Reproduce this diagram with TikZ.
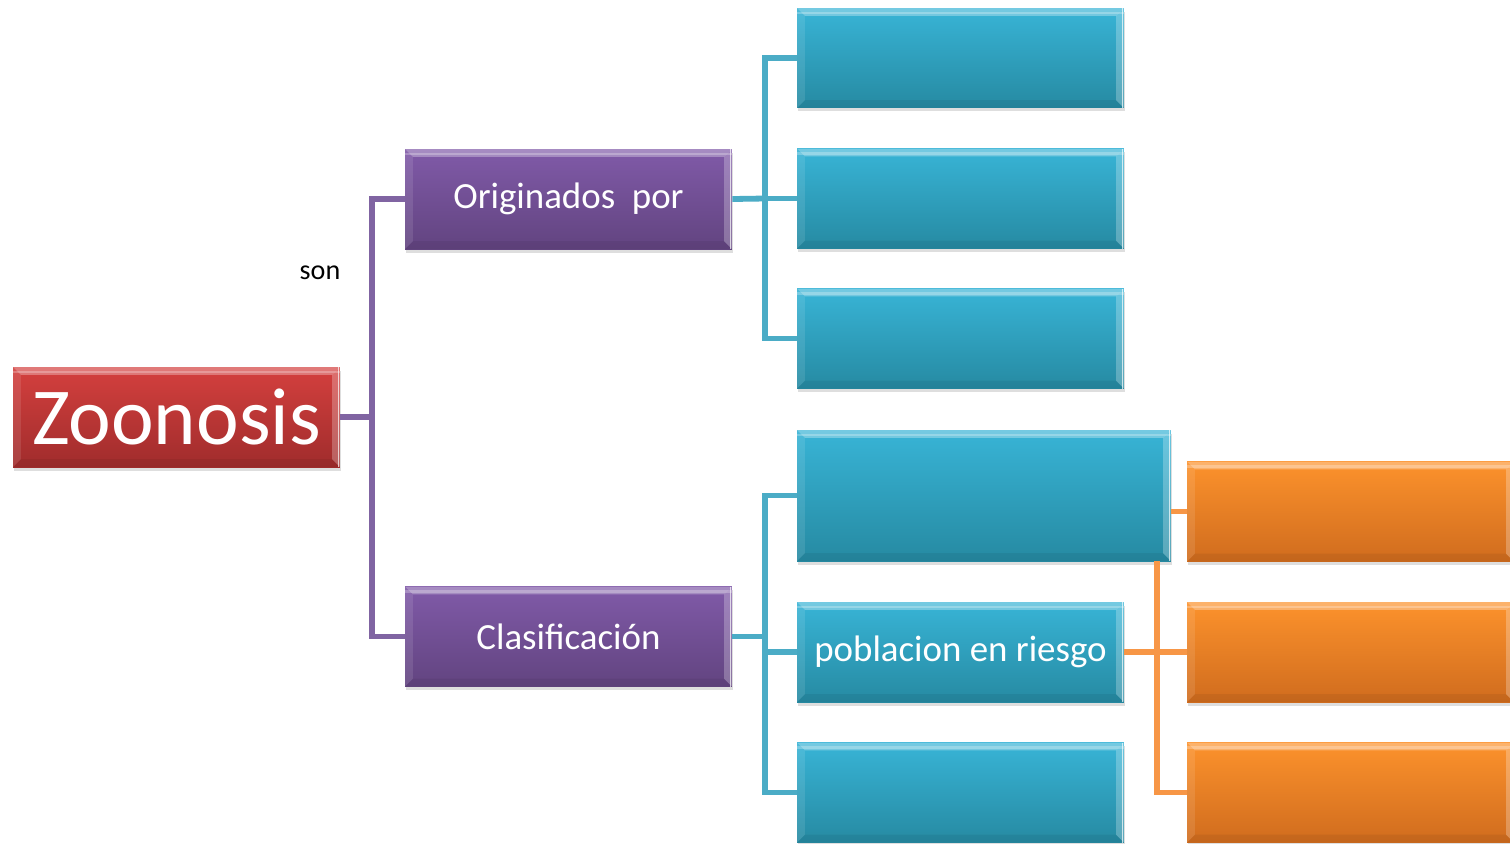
\documentclass[tikz,border=0pt]{standalone}
\usepackage{fontspec}
\setmainfont{Carlito}
\usetikzlibrary{shadows,calc}
\definecolor{redT}{RGB}{212,64,62}
\definecolor{redB}{RGB}{160,44,44}
\definecolor{purT}{RGB}{128,90,168}
\definecolor{purB}{RGB}{98,68,128}
\definecolor{bluT}{RGB}{56,180,214}
\definecolor{bluB}{RGB}{38,138,162}
\definecolor{oraT}{RGB}{252,146,44}
\definecolor{oraB}{RGB}{208,108,30}
\definecolor{purL}{RGB}{128,100,162}
\definecolor{bluL}{RGB}{75,172,198}
\definecolor{oraL}{RGB}{247,150,70}
\begin{document}
\begin{tikzpicture}[x=0.02cm,y=-0.02cm,
  box/.style={rectangle, inner sep=0pt, text=white,
    font=\fontsize{21}{24}\selectfont,
    minimum width=6.54cm, minimum height=2cm,
    drop shadow={shadow xshift=0.02cm, shadow yshift=-0.07cm, opacity=0.18, fill=black!70},
    path picture={
      \coordinate (nw) at (path picture bounding box.north west);
      \coordinate (ne) at (path picture bounding box.north east);
      \coordinate (sw) at (path picture bounding box.south west);
      \coordinate (se) at (path picture bounding box.south east);
      \fill[white,opacity=0.3] (nw) -- (ne) -- ([shift={(-4.5pt,-4.5pt)}]ne) -- ([shift={(4.5pt,-4.5pt)}]nw) -- cycle;
      \fill[white,opacity=0.25] ([yshift=-2pt]nw) -- ([yshift=-2pt]ne) -- ([yshift=-3.5pt]ne) -- ([yshift=-3.5pt]nw) -- cycle;
      \fill[white,opacity=0.1] (nw) -- ([shift={(4.5pt,-4.5pt)}]nw) -- ([shift={(4.5pt,4.5pt)}]sw) -- (sw) -- cycle;
      \fill[white,opacity=0.25] (ne) -- ([shift={(-4.5pt,-4.5pt)}]ne) -- ([shift={(-4.5pt,4.5pt)}]se) -- (se) -- cycle;
      \fill[black,opacity=0.06] (sw) -- ([shift={(4.5pt,4.5pt)}]sw) -- ([shift={(-4.5pt,4.5pt)}]se) -- (se) -- cycle;
      \draw[white,opacity=0.7,line width=1pt] ([xshift=-0.8pt]ne) -- ([xshift=-0.8pt]se);
    }},
  redbox/.style={box, top color=redT, bottom color=redB},
  purbox/.style={box, top color=purT, bottom color=purB},
  blubox/.style={box, top color=bluT, bottom color=bluB},
  orabox/.style={box, top color=oraT, bottom color=oraB},
  pline/.style={draw=purL, line width=3pt},
  bline/.style={draw=bluL, line width=3.3pt},
  oline/.style={draw=oraL, line width=3.3pt}
]
\clip (0,0) rectangle (1510,843);
\fill[white] (0,0) rectangle (1510,843);

\node[redbox, font=\fontsize{46}{50}\selectfont] (zoo) at (176.5,417) {Zoonosis};
\node[purbox] (orig) at (568.5,199) {Originados\ \ por};
\node[purbox] (clas) at (568.5,636.5) {Clasificación};
\node[blubox] (b1) at (960.5,58) {};
\node[blubox] (b2) at (960.5,198.5) {};
\node[blubox] (b3) at (960.5,338.5) {};
\node[blubox, minimum width=7.48cm, minimum height=2.62cm] (bb) at (984,495.5) {};
\node[blubox] (pob) at (960.5,652) {poblacion en riesgo};
\node[blubox] (b5) at (960.5,792.5) {};
\node[orabox] (o1) at (1350.5,511.5) {};
\node[orabox] (o2) at (1350.5,652) {};
\node[orabox] (o3) at (1350.5,792.5) {};

\node[font=\fontsize{16}{18}\selectfont, anchor=center] (son) at (320,273) {son};

\coordinate (jp) at (372,417);
\coordinate (jb1) at (765,198.5);
\coordinate (jb2) at (765,636.5);
\coordinate (jo) at (1157,561);

\draw[pline] (zoo.east) -- (jp);
\draw[pline] (orig.west) -| (jp) |- (clas.west);

\draw[bline] (orig.east) -- (jb1);
\draw[bline] (b1.west) -| (jb1) |- (b3.west);
\draw[bline] (jb1) -- (b2.west);

\draw[bline] (clas.east) -- (jb2);
\draw[bline] (bb.west) -| (jb2) |- (b5.west);
\draw[bline] (jb2 |- pob.west) -- (pob.west);

\draw[oline] (o1.west -| bb.east) -- (o1.west);
\draw[oline] (jo) |- (o3.west);
\draw[oline] (pob.east) -- (o2.west);
\end{tikzpicture}
\end{document}
